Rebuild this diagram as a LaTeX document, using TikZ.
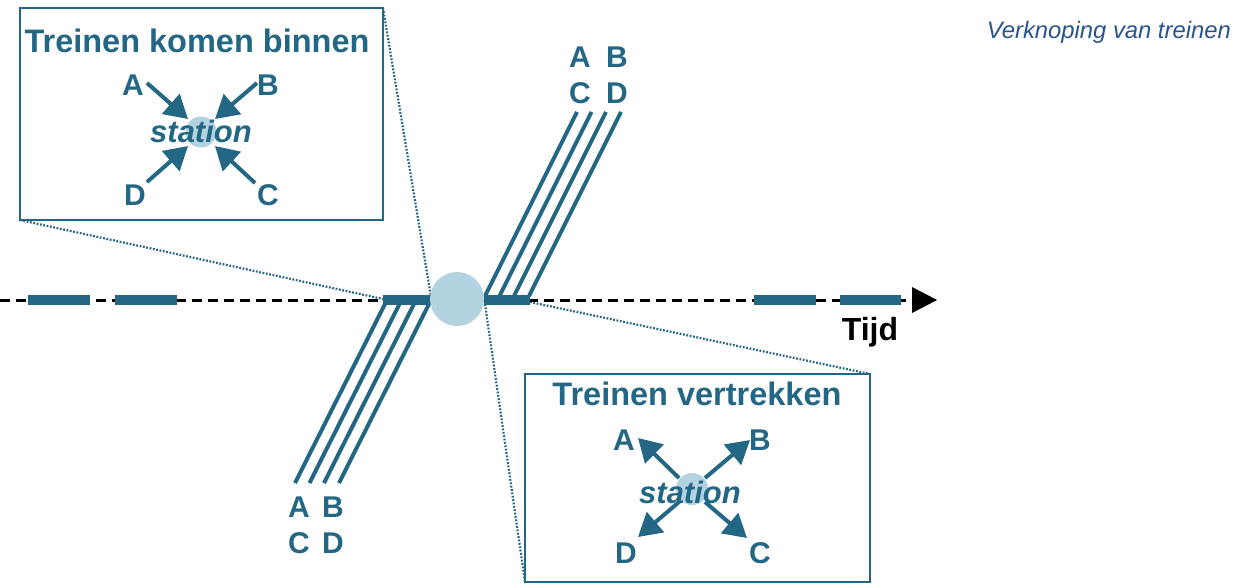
\documentclass[tikz,border=0pt]{standalone}
\usepackage{fontspec}
\setmainfont{Liberation Sans}
\usetikzlibrary{arrows.meta}
\definecolor{teal}{RGB}{35,103,133}
\definecolor{lightc}{RGB}{178,211,223}
\definecolor{blueT}{RGB}{40,84,140}
\tikzset{
  lbl/.style={text=teal,font=\bfseries\fontsize{30}{34}\selectfont,inner sep=0pt,anchor=base},
  ttl/.style={text=teal,font=\bfseries\fontsize{32.5}{36}\selectfont,inner sep=0pt,anchor=base},
  stn/.style={text=teal,font=\bfseries\itshape\fontsize{31}{34}\selectfont,inner sep=0pt,anchor=base},
  boxline/.style={draw=teal,line width=2.5pt},
  zoomline/.style={draw=teal,line width=2.2pt,dash pattern=on 1.8pt off 1.6pt},
  bundle/.style={draw=teal,line width=4pt},
  bar/.style={draw=teal,line width=10pt},
  sarrow/.style={draw=teal,line width=4pt,-{Triangle[length=23pt,width=26pt]}},
}
\begin{document}
\begin{tikzpicture}[x=1pt,y=-1pt]
\useasboundingbox (0,0) rectangle (1244,584);
% coordinates
\coordinate (tl0) at (0,300);
\coordinate (tl1) at (913,300);
% zoom lines
\coordinate (b1tl) at (20,8);
\coordinate (b1br) at (383,220);
\coordinate (b1bl) at (20,220);
\coordinate (b1tr) at (383,8);
\coordinate (b2tl) at (525,374);
\coordinate (b2br) at (870,582);
\coordinate (b2bl) at (525,582);
\coordinate (b2tr) at (870,374);
\coordinate (barL) at (383,299);
\coordinate (cirL) at (431,297);
\coordinate (cirR) at (485,304);
\coordinate (barR) at (530,302);
\draw[zoomline] (b1bl) -- (barL);
\draw[zoomline] (b1tr) -- (cirL);
\draw[zoomline] (cirR) -- (b2bl);
\draw[zoomline] (barR) -- (b2tr);
% timeline
\draw[line width=3pt,dash pattern=on 10pt off 6pt] (tl0) -- (tl1);
\fill (912,287) -- (937,300) -- (912,313) -- cycle;
% bars
\foreach \a/\b in {28/90,115/177,383/432,484/530,754/816,840/901}
  \draw[bar] (\a,300) -- (\b,300);
% bundles
\foreach \i/\dx in {0/0,1/14.5,2/29,3/44}{
  \draw[bundle] (385+\dx,304) -- (295+\dx,483);
  \draw[bundle] (485+\dx,296) -- (577+\dx,112);
}
% big station
\node[circle,fill=lightc,minimum size=54pt,inner sep=0pt] (st) at (457,299) {};
% bundle labels
\node[lbl] (la1) at (299,517) {A};
\node[lbl] (lb1) at (333,517) {B};
\node[lbl] (lc1) at (299,553) {C};
\node[lbl] (ld1) at (333,553) {D};
\node[lbl] (la2) at (580,67) {A};
\node[lbl] (lb2) at (617,67) {B};
\node[lbl] (lc2) at (580,103) {C};
\node[lbl] (ld2) at (617,103) {D};
% Tijd
\node[font=\bfseries\fontsize{32}{36}\selectfont,inner sep=0pt,anchor=base] (tijd) at (870,340) {Tijd};
% caption
\node[text=blueT,font=\itshape\fontsize{23.8}{27}\selectfont,inner sep=0pt,anchor=base east] (cap) at (1231,38) {Verknoping van treinen};
% box 1
\draw[boxline,fill=white] (b1tl) rectangle (b1br);
\node[ttl] (t1) at (197,52) {Treinen komen binnen};
\node[circle,fill=lightc,minimum size=31pt,inner sep=0pt] (s1) at (201,132) {};
\coordinate (a1s) at (147,83); \coordinate (a1e) at (188,119);
\coordinate (b1s) at (257,83); \coordinate (b1e) at (215,119);
\coordinate (d1s) at (147,182); \coordinate (d1e) at (188,146);
\coordinate (c1s) at (255,183); \coordinate (c1e) at (215,146);
\draw[sarrow] (a1s) -- (a1e);
\draw[sarrow] (b1s) -- (b1e);
\draw[sarrow] (d1s) -- (d1e);
\draw[sarrow] (c1s) -- (c1e);
\node[stn] (st1) at (201,142) {station};
\node[lbl] (A1) at (133,95) {A};
\node[lbl] (B1) at (268,95) {B};
\node[lbl] (D1) at (135,205) {D};
\node[lbl] (C1) at (268,205) {C};
% box 2
\draw[boxline,fill=white] (b2tl) rectangle (b2br);
\node[ttl] (t2) at (697,405) {Treinen vertrekken};
\node[circle,fill=lightc,minimum size=32pt,inner sep=0pt] (s2) at (692,489) {};
\coordinate (a2s) at (679,478); \coordinate (a2e) at (638,438);
\coordinate (b2s) at (705,478); \coordinate (b2e) at (750,440);
\coordinate (d2s) at (679,502); \coordinate (d2e) at (638,537);
\coordinate (c2s) at (705,502); \coordinate (c2e) at (747,538);
\draw[sarrow] (a2s) -- (a2e);
\draw[sarrow] (b2s) -- (b2e);
\draw[sarrow] (d2s) -- (d2e);
\draw[sarrow] (c2s) -- (c2e);
\node[stn] (st2) at (690,503) {station};
\node[lbl] (A2) at (624,450) {A};
\node[lbl] (B2) at (760,450) {B};
\node[lbl] (D2) at (626,563) {D};
\node[lbl] (C2) at (760,563) {C};
\end{tikzpicture}
\end{document}
